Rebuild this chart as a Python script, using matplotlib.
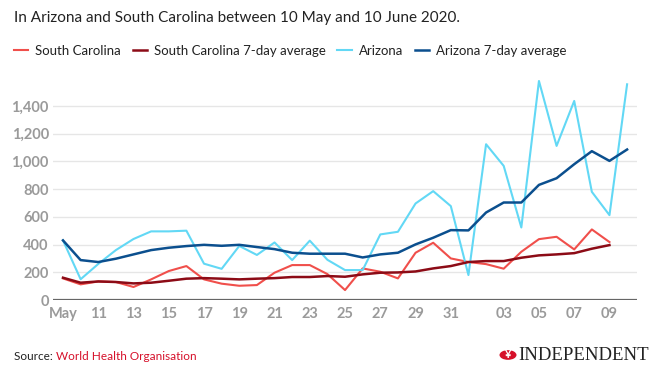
import matplotlib
matplotlib.use("Agg")
import matplotlib.pyplot as plt
from matplotlib.patches import Circle
import pandas as pd

plt.rcParams['font.family'] = ['Lato', 'DejaVu Sans']

# data: daily new cases, 9 May - 10 June 2020
dates = pd.date_range('2020-05-09', '2020-06-10', freq='D')

arizona = [430, 150, 260, 360, 440, 495, 495, 500, 262, 225, 390, 325, 415, 288,
           428, 290, 216, 216, 473, 492, 696, 785, 677, 180, 1123, 967, 523, 1579,
           1111, 1435, 780, 612, 1555]
arizona_avg = [430, 288, 274, 298, 329, 360, 377, 389, 398, 391, 398, 382, 367, 341,
               334, 334, 334, 307, 329, 341, 401, 449, 504, 502, 631, 703, 703, 830,
               878, 979, 1073, 1003, 1085]
south_carolina = [156, 113, 134, 130, 94, 149, 209, 245, 149, 118, 103, 108, 197, 252,
                  252, 187, 72, 228, 204, 156, 341, 413, 300, 274, 259, 226, 348, 439,
                  456, 365, 509, 418]
south_carolina_avg = [161, 125, 134, 130, 120, 125, 139, 154, 158, 154, 149, 154, 158,
                      166, 166, 173, 168, 185, 197, 199, 206, 228, 245, 274, 281, 281,
                      305, 322, 329, 338, 370, 396]

tick_dates = ['2020-05-09', '2020-05-11', '2020-05-13', '2020-05-15', '2020-05-17',
              '2020-05-19', '2020-05-21', '2020-05-23', '2020-05-25', '2020-05-27',
              '2020-05-29', '2020-05-31', '2020-06-03', '2020-06-05', '2020-06-07',
              '2020-06-09']
tick_labels = ['May', '11', '13', '15', '17', '19', '21', '23', '25', '27', '29', '31',
               '03', '05', '07', '09']
y_ticks = [0, 200, 400, 600, 800, 1000, 1200, 1400]

COLORS = {
    'sc': '#f04f4b',
    'sc_avg': '#8c0b16',
    'az': '#62d8f5',
    'az_avg': '#0b4f8e',
    'grid': '#e6e6e6',
    'axis': '#666666',
    'tick': '#9a9a9a',
    'ink': '#222222',
    'red': '#d6102a',
}

fig = plt.figure(figsize=(6.6, 3.76), dpi=100, facecolor='white')
ax = fig.add_axes([0.0803, 0.202, 0.8848, 0.5904])

n_sc = len(south_carolina)
ax.plot(dates[:n_sc], south_carolina, color=COLORS['sc'], lw=1.5, label='South Carolina', zorder=3)
ax.plot(dates[:len(south_carolina_avg)], south_carolina_avg, color=COLORS['sc_avg'], lw=1.8,
        label='South Carolina 7-day average', zorder=4)
ax.plot(dates, arizona, color=COLORS['az'], lw=1.5, label='Arizona', zorder=3)
ax.plot(dates, arizona_avg, color=COLORS['az_avg'], lw=1.8, label='Arizona 7-day average', zorder=4)

day = pd.Timedelta(days=1)
ax.set_xlim(dates[0] - 0.567 * day, dates[0] + 32.56 * day)
ax.set_ylim(0, 1600)

ax.set_yticks(y_ticks)
ax.set_yticklabels([f'{v:,}' for v in y_ticks])
ax.set_xticks(pd.to_datetime(tick_dates))
ax.set_xticklabels(tick_labels)

for v in y_ticks[1:]:
    ax.axhline(v, color=COLORS['grid'], lw=1, zorder=1)
ax.axhline(0, color=COLORS['axis'], lw=1.6, zorder=5)

for s in ax.spines.values():
    s.set_visible(False)
ax.tick_params(axis='both', length=0, labelsize=10.5, labelcolor=COLORS['tick'])
ax.tick_params(axis='y', pad=3)
ax.tick_params(axis='x', pad=5)
for t in ax.get_yticklabels():
    t.set_fontweight('bold')
for t in ax.get_xticklabels():
    t.set_fontweight('bold')

fig.text(14 / 660, 1 - 18 / 376, 'In Arizona and South Carolina between 10 May and 10 June 2020.',
         fontsize=11, color=COLORS['ink'], va='center', ha='left')

fig.legend(loc='center left', bbox_to_anchor=(2 / 660, 1 - 51 / 376), ncol=4, frameon=False,
           fontsize=9.5, handlelength=1.1, handletextpad=0.5, columnspacing=0.9,
           labelcolor=COLORS['ink'])

# footer
src = fig.text(14 / 660, 1 - 357 / 376, 'Source: ', fontsize=8.5, color=COLORS['ink'], va='center')
fig.canvas.draw()
bb = src.get_window_extent()
fig.text(bb.x1 / 660, 1 - 357 / 376, 'World Health Organisation', fontsize=8.5,
         color=COLORS['red'], va='center')

fig.patches.append(Circle((508 / 660, 1 - 355 / 376), 8.5 / 660, transform=fig.transFigure,
                          facecolor=COLORS['red'], edgecolor='none'))
fig.text(508 / 660, 1 - 355 / 376, '¥', fontsize=8, color='white', ha='center', va='center',
         fontweight='bold')
fig.text(518 / 660, 1 - 355 / 376, 'INDEPENDENT', fontsize=13.5, color=COLORS['ink'],
         family='Liberation Serif', va='center', ha='left')

fig.savefig('out.png', dpi=100, facecolor='white')
